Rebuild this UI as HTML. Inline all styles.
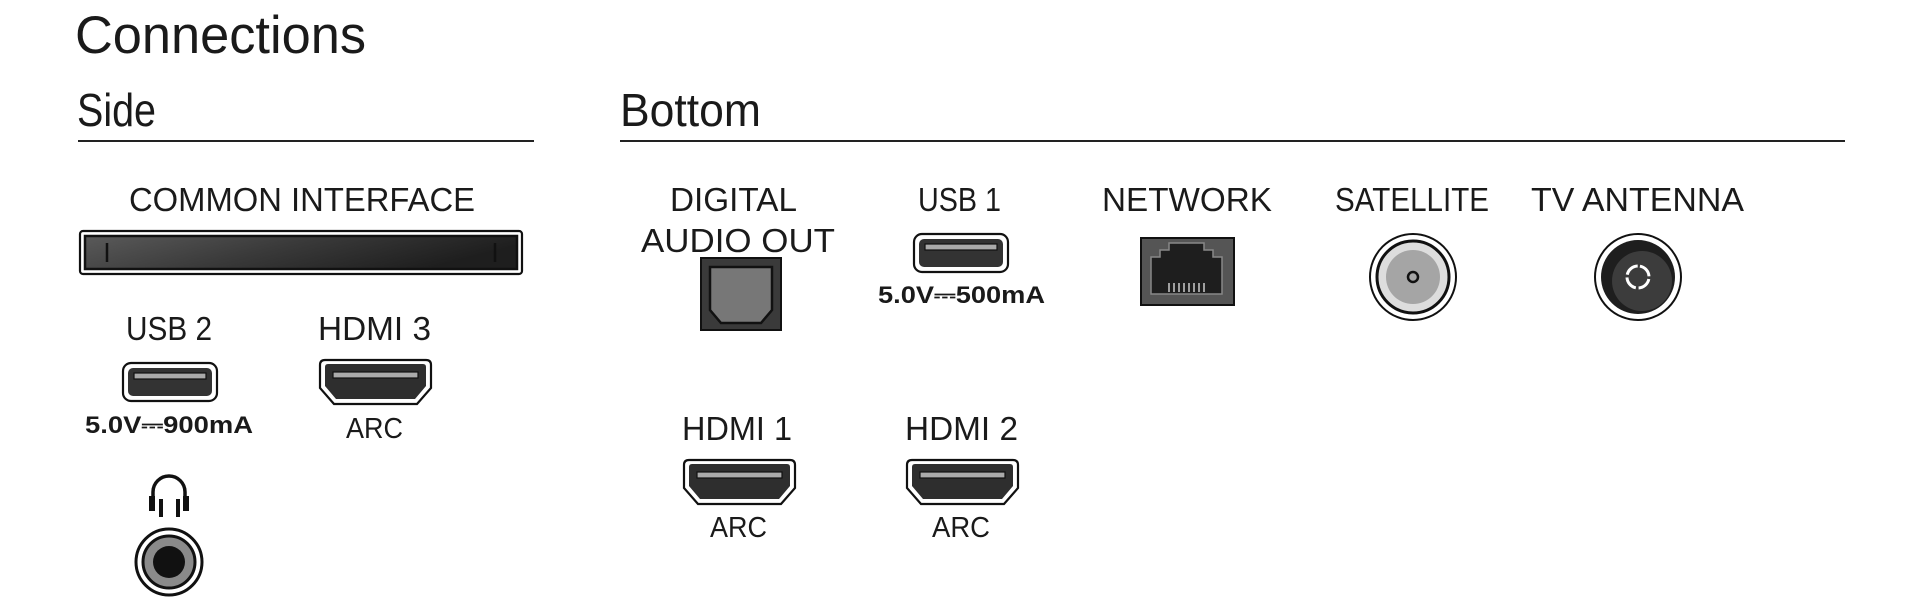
<!DOCTYPE html>
<html><head><meta charset="utf-8"><style>html,body{margin:0;padding:0;background:#fff}svg{display:block}</style></head>
<body>
<svg width="1920" height="597" viewBox="0 0 1920 597" xmlns="http://www.w3.org/2000/svg" font-family="Liberation Sans, sans-serif" fill="#1a1a1a">
<defs>
<linearGradient id="slot" x1="0" y1="0" x2="1" y2="0.3"><stop offset="0" stop-color="#5a5a5a"/><stop offset="0.5" stop-color="#3a3a3a"/><stop offset="1" stop-color="#1e1e1e"/></linearGradient>
<g id="hdmi">
<path d="M2 7 q0-5 5-5 h101 q5 0 5 5 v23 l-14 16 h-83 l-14-16z" fill="#fff" stroke="#111" stroke-width="2.2"/>
<path d="M7 9 q0-3 3-3 h95 q3 0 3 3 v19 l-11 13 h-79 l-11-13z" fill="#2e2e2e"/>
<rect x="15" y="14" width="85" height="6" fill="#aaa" stroke="#111" stroke-width="1.2"/>
</g>
<g id="usb">
<rect x="1" y="1" width="94" height="38" rx="8" fill="#fff" stroke="#111" stroke-width="2.2"/>
<rect x="6" y="6" width="84" height="28" rx="5" fill="#333"/>
<rect x="12" y="11" width="72" height="6" fill="#aaa" stroke="#111" stroke-width="1.2"/>
</g>
</defs>
<text x="75" y="53" font-size="53" textLength="291" lengthAdjust="spacingAndGlyphs">Connections</text>
<text x="77" y="126" font-size="46" textLength="79" lengthAdjust="spacingAndGlyphs">Side</text>
<text x="620" y="126" font-size="46" textLength="141" lengthAdjust="spacingAndGlyphs">Bottom</text>
<rect x="78" y="140" width="456" height="2" fill="#222"/>
<rect x="620" y="140" width="1225" height="2" fill="#222"/>

<g font-size="33">
<text x="129" y="211" textLength="346" lengthAdjust="spacingAndGlyphs">COMMON INTERFACE</text>
<text x="126" y="340" textLength="86" lengthAdjust="spacingAndGlyphs">USB 2</text>
<text x="318" y="340" textLength="113" lengthAdjust="spacingAndGlyphs">HDMI 3</text>
<text x="670" y="211" textLength="127" lengthAdjust="spacingAndGlyphs">DIGITAL</text>
<text x="641" y="252" textLength="194" lengthAdjust="spacingAndGlyphs">AUDIO OUT</text>
<text x="918" y="211" textLength="83" lengthAdjust="spacingAndGlyphs">USB 1</text>
<text x="1102" y="211" textLength="170" lengthAdjust="spacingAndGlyphs">NETWORK</text>
<text x="1335" y="211" textLength="154" lengthAdjust="spacingAndGlyphs">SATELLITE</text>
<text x="1531" y="211" textLength="213" lengthAdjust="spacingAndGlyphs">TV ANTENNA</text>
<text x="682" y="440" textLength="110" lengthAdjust="spacingAndGlyphs">HDMI 1</text>
<text x="905" y="440" textLength="113" lengthAdjust="spacingAndGlyphs">HDMI 2</text>
</g>
<g font-size="29">
<text x="346" y="438" textLength="57" lengthAdjust="spacingAndGlyphs">ARC</text>
<text x="710" y="537" textLength="57" lengthAdjust="spacingAndGlyphs">ARC</text>
<text x="932" y="537" textLength="58" lengthAdjust="spacingAndGlyphs">ARC</text>
</g>
<g font-size="24" font-weight="bold">
<text x="85" y="433" textLength="168" lengthAdjust="spacingAndGlyphs">5.0V⎓900mA</text>
<text x="878" y="303" textLength="167" lengthAdjust="spacingAndGlyphs">5.0V⎓500mA</text>
</g>

<!-- CI slot -->
<rect x="80" y="231" width="442" height="43" rx="3" fill="#fff" stroke="#111" stroke-width="2.2"/>
<rect x="85" y="236" width="432" height="33" fill="url(#slot)" stroke="#111" stroke-width="2.5"/>
<path d="M107 243 v19 M495 243 v19" stroke="#111" stroke-width="2.5"/>

<use href="#usb" transform="translate(122,362)"/>
<use href="#usb" transform="translate(913,233)"/>
<use href="#hdmi" transform="translate(318,358)"/>
<use href="#hdmi" transform="translate(682,458)"/>
<use href="#hdmi" transform="translate(905,458)"/>

<!-- Optical -->
<rect x="701" y="258" width="80" height="72" fill="#3a3a3a" stroke="#111" stroke-width="2"/>
<path d="M710 267 h62 v43 l-11 13 h-40 l-11-13z" fill="#777" stroke="#111" stroke-width="2.5"/>

<!-- RJ45 -->
<rect x="1141" y="238" width="93" height="67" fill="#555" stroke="#111" stroke-width="2"/>
<path d="M1151 294 v-37 h9 v-7 h9 v-7 h35 v7 h9 v7 h9 v37z" fill="#1e1e1e" stroke="#888" stroke-width="1.5"/>
<g stroke="#ccc" stroke-width="1.5"><path d="M1169 283 v9 M1174 283 v9 M1179 283 v9 M1184 283 v9 M1189 283 v9 M1194 283 v9 M1199 283 v9 M1204 283 v9"/></g>

<!-- Satellite -->
<circle cx="1413" cy="277" r="43" fill="#fff" stroke="#111" stroke-width="2"/>
<circle cx="1413" cy="277" r="36" fill="#ddd" stroke="#111" stroke-width="3"/>
<circle cx="1413" cy="277" r="27" fill="#a5a5a5"/>
<circle cx="1413" cy="277" r="5" fill="none" stroke="#111" stroke-width="2.5"/>

<!-- Antenna -->
<circle cx="1638" cy="277" r="43" fill="#fff" stroke="#111" stroke-width="2"/>
<circle cx="1638" cy="277" r="37" fill="#1e1e1e"/>
<circle cx="1642" cy="281" r="30" fill="#3c3c3c"/>
<circle cx="1638" cy="277" r="11" fill="none" stroke="#fff" stroke-width="3" stroke-dasharray="14.5 2.8" transform="rotate(-80 1638 277)"/>

<!-- Headphone -->
<path d="M153 500 v-8 a16 16 0 0 1 32 0 v8" fill="none" stroke="#111" stroke-width="3.5"/>
<rect x="149" y="496" width="6" height="15" fill="#111"/>
<rect x="183" y="496" width="6" height="15" fill="#111"/>
<rect x="159" y="499" width="4" height="18" fill="#111"/>
<rect x="176" y="499" width="4" height="18" fill="#111"/>
<circle cx="169" cy="562" r="33" fill="#fff" stroke="#111" stroke-width="3"/>
<circle cx="169" cy="562" r="26" fill="#8a8a8a" stroke="#111" stroke-width="3"/>
<circle cx="169" cy="562" r="16" fill="#111"/>
</svg>
</body></html>
